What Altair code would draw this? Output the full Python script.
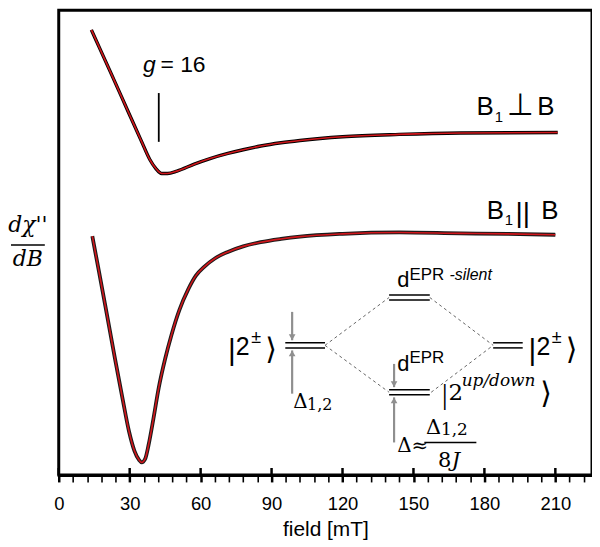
import altair as alt
import pandas as pd

# ---- spectrum data ----
# upper trace: B1 perpendicular to B   (field in mT, signal in arbitrary units)
perp_field = [13.8, 17.0, 22.6, 29.7, 35.0, 38.5, 41.0, 43.5, 46.0, 50.0, 57.3, 64.0, 71.5,
              78.0, 85.4, 94.0, 102.0, 120.0, 144.0, 170.0, 211.0]
perp_signal = [95.8, 92.2, 85.9, 77.8, 71.8, 67.9, 66.0, 64.9, 64.9, 65.4, 66.9, 68.1, 69.2,
               70.0, 70.8, 71.5, 72.0, 72.8, 73.3, 73.6, 73.7]
# lower trace: B1 parallel to B
par_field = [14.2, 17.0, 19.7, 23.8, 27.0, 29.7, 32.0, 34.0, 35.1, 36.5, 38.0, 40.0, 42.3, 45.0,
             47.7, 51.0, 54.8, 58.0, 61.5, 66.0, 71.5, 78.0, 85.4, 94.0, 102.0, 120.0, 144.0,
             170.0, 190.0, 210.0]
par_signal = [51.4, 43.8, 36.4, 25.0, 16.4, 9.4, 5.2, 3.2, 2.7, 3.4, 6.5, 12.0, 18.8, 25.0,
              30.2, 35.5, 40.0, 42.9, 44.8, 46.6, 48.0, 49.2, 50.1, 50.8, 51.3, 51.9, 52.2,
              52.0, 51.9, 51.7]

major_ticks = [0, 30, 60, 90, 120, 150, 180, 210]
all_ticks = list(range(0, 223, 6))

W, H = 536, 467
XDOM = [0, 225.5]
YDOM = [0, 100]
SANS = "Liberation Sans"
SERIF = "DejaVu Serif"
GRAY = "#8f8f8f"

xs = alt.Scale(domain=XDOM, nice=False, zero=False)
ys = alt.Scale(domain=YDOM, nice=False, zero=False)

xaxis = alt.Axis(values=all_ticks, labelExpr="datum.value % 30 === 0 ? datum.label : ''",
                 domainColor="black", domainWidth=3, tickColor="black", tickSize=7,
                 tickWidth={"condition": {"test": "datum.value % 30 === 0", "value": 2.5}, "value": 1.6},
                 labelFontSize=18.5, labelFont=SANS, labelColor="black", labelPadding=13,
                 title="field [mT]", titleFont=SANS, titleFontSize=21, titleFontWeight="normal",
                 titleColor="black", titlePadding=5, grid=False, labelFlush=False)

X = alt.X("x:Q", scale=xs, axis=xaxis)
Y = alt.Y("y:Q", scale=ys, axis=None)


def line(fx, fy, color, width):
    df = pd.DataFrame({"x": fx, "y": fy})
    return alt.Chart(df).mark_line(color=color, strokeWidth=width, interpolate="monotone").encode(x=X, y=Y)


def seg(x1, y1, x2, y2, color="black", width=1.5, dash=None):
    df = pd.DataFrame({"x": [x1], "y": [y1], "x2": [x2], "y2": [y2]})
    kw = dict(color=color, strokeWidth=width)
    if dash:
        kw["strokeDash"] = dash
    return alt.Chart(df).mark_rule(**kw).encode(x=X, y=Y, x2="x2:Q", y2="y2:Q")


def txt(x, y, s, size, font=SANS, style="normal", align="left", baseline="alphabetic", color="black"):
    df = pd.DataFrame({"x": [x], "y": [y], "t": [s]})
    return alt.Chart(df).mark_text(fontSize=size, font=font, fontStyle=style, align=align,
                                   baseline=baseline, color=color).encode(x=X, y=Y, text="t:N")


def arrow(x, y_from, y_to):
    shape = "triangle-down" if y_to < y_from else "triangle-up"
    df = pd.DataFrame({"x": [x], "y": [y_to]})
    head = alt.Chart(df).mark_point(shape=shape, filled=True, color=GRAY, size=45, opacity=1,
                                    yOffset=(-3 if y_to < y_from else 3)).encode(x=X, y=Y)
    return seg(x, y_from, x, y_to, color=GRAY, width=2.2) + head


layers = []
# spectra: black data under red fit
layers += [line(perp_field, perp_signal, "black", 3.4), line(perp_field, perp_signal, "#d0161b", 1.6)]
layers += [line(par_field, par_signal, "#1a1a1a", 3.8), line(par_field, par_signal, "#d0161b", 1.6)]

# upward half of major ticks
mt = pd.DataFrame({"x": major_ticks})
layers.append(alt.Chart(mt).mark_rule(color="black", strokeWidth=2.5).encode(
    x=X, y=alt.value(H), y2=alt.value(H - 7)))

# g = 16 marker
layers.append(seg(42.3, 71.7, 42.3, 82.2, width=1.8))
layers.append(txt(35.6, 86.7, "g", 23, style="italic"))
layers.append(txt(43.0, 86.7, "= 16", 23))

# trace labels
layers.append(txt(176.7, 77.4, "B", 26))
layers.append(txt(184.4, 76.0, "1", 15))
layers.append(txt(189.6, 77.4, "\u22a5", 31, font="DejaVu Sans"))
layers.append(txt(202.4, 77.4, "B", 26))
layers.append(txt(181.0, 55.2, "B", 26))
layers.append(txt(188.6, 53.8, "1", 15))
layers.append(txt(193.2, 54.4, "||", 28))
layers.append(txt(204.0, 55.2, "B", 26))

# energy-level diagram: double lines
for (xa, xb, yc) in [(95.8, 112.6, 27.9), (139.7, 156.9, 38.2), (183.7, 196.2, 27.9), (139.7, 156.9, 17.8)]:
    layers.append(seg(xa, yc + 0.55, xb, yc + 0.55, width=1.5))
    layers.append(seg(xa, yc - 0.55, xb, yc - 0.55, width=1.5))
# dashed connectors
for (xa, ya, xb, yb) in [(112.6, 27.9, 139.7, 38.2), (112.6, 27.9, 139.7, 17.8),
                         (156.9, 38.2, 183.7, 27.9), (157.5, 17.8, 183.7, 27.9)]:
    layers.append(seg(xa, ya, xb, yb, color="#666666", width=1, dash=[3, 3]))
# gray arrows
layers.append(arrow(98.7, 35.1, 29.0))
layers.append(arrow(98.7, 17.5, 26.8))
layers.append(arrow(141.8, 23.9, 18.9))
layers.append(arrow(141.8, 7.0, 16.7))

# |2±> left and right
for x0 in [71.6, 198.7]:
    layers.append(txt(x0, 24.8, "|", 30, font=SANS))
    layers.append(txt(x0 + 3.3, 25.8, "2", 25))
    layers.append(txt(x0 + 9.8, 28.4, "\u00b1", 18))
    layers.append(txt(x0 + 15.7, 25.0, "\u27e9", 30, font="DejaVu Sans"))
# |2^{up/down}>
layers.append(txt(162.0, 15.2, "|", 30, font="Liberation Serif"))
layers.append(txt(164.8, 16.1, "2", 23, font=SERIF))
layers.append(txt(170.4, 19.2, "up/down", 17, font=SERIF, style="italic"))
layers.append(txt(203.6, 15.4, "\u27e9", 30, font="DejaVu Sans"))
# d^EPR labels
layers.append(txt(143.1, 22.4, "d", 22))
layers.append(txt(148.3, 24.0, "EPR", 17))
layers.append(txt(143.1, 40.4, "d", 22))
layers.append(txt(148.3, 42.0, "EPR", 17))
layers.append(txt(165.2, 42.0, "-silent", 16, style="italic"))
# Delta_1,2
layers.append(txt(99.2, 14.4, "\u0394", 20, font=SERIF))
layers.append(txt(105.0, 14.0, "1,2", 16, font=SERIF))
# Delta ≈ Delta_1,2 / 8J
layers.append(txt(143.1, 4.9, "\u0394\u2248", 20, font=SERIF))
layers.append(txt(155.3, 8.9, "\u0394", 21, font=SERIF))
layers.append(txt(161.6, 8.5, "1,2", 17, font=SERIF))
layers.append(seg(154.6, 7.0, 176.6, 7.0, width=1.5))
layers.append(txt(166.0, 1.7, "8", 21, font=SERIF, align="right"))
layers.append(txt(166.2, 1.7, "J", 21, font=SERIF, style="italic"))

# y-axis label as a fraction, placed left of the frame
ylab = pd.DataFrame({"y": [52.4], "t": ["d\u03c7''"]})
layers.append(alt.Chart(ylab).mark_text(fontSize=22, font=SERIF, fontStyle="italic", align="center",
                                        baseline="alphabetic", color="black")
              .encode(x=alt.value(-31), y=Y, text="t:N"))
ylab2 = pd.DataFrame({"y": [45.0], "t": ["dB"]})
layers.append(alt.Chart(ylab2).mark_text(fontSize=22, font=SERIF, fontStyle="italic", align="center",
                                         baseline="alphabetic", color="black")
              .encode(x=alt.value(-31), y=Y, text="t:N"))
ybar = pd.DataFrame({"y": [49.5]})
layers.append(alt.Chart(ybar).mark_rule(color="black", strokeWidth=1.4)
              .encode(x=alt.value(-48), x2=alt.value(-14), y=Y))

chart = alt.layer(*layers).properties(
    width=W, height=H, padding={"left": 0, "top": 1, "right": 0, "bottom": 0}
).configure(background="white").configure_view(stroke="black", strokeWidth=3)

chart.save("out.html", embed_options={"renderer": "svg", "actions": False})
